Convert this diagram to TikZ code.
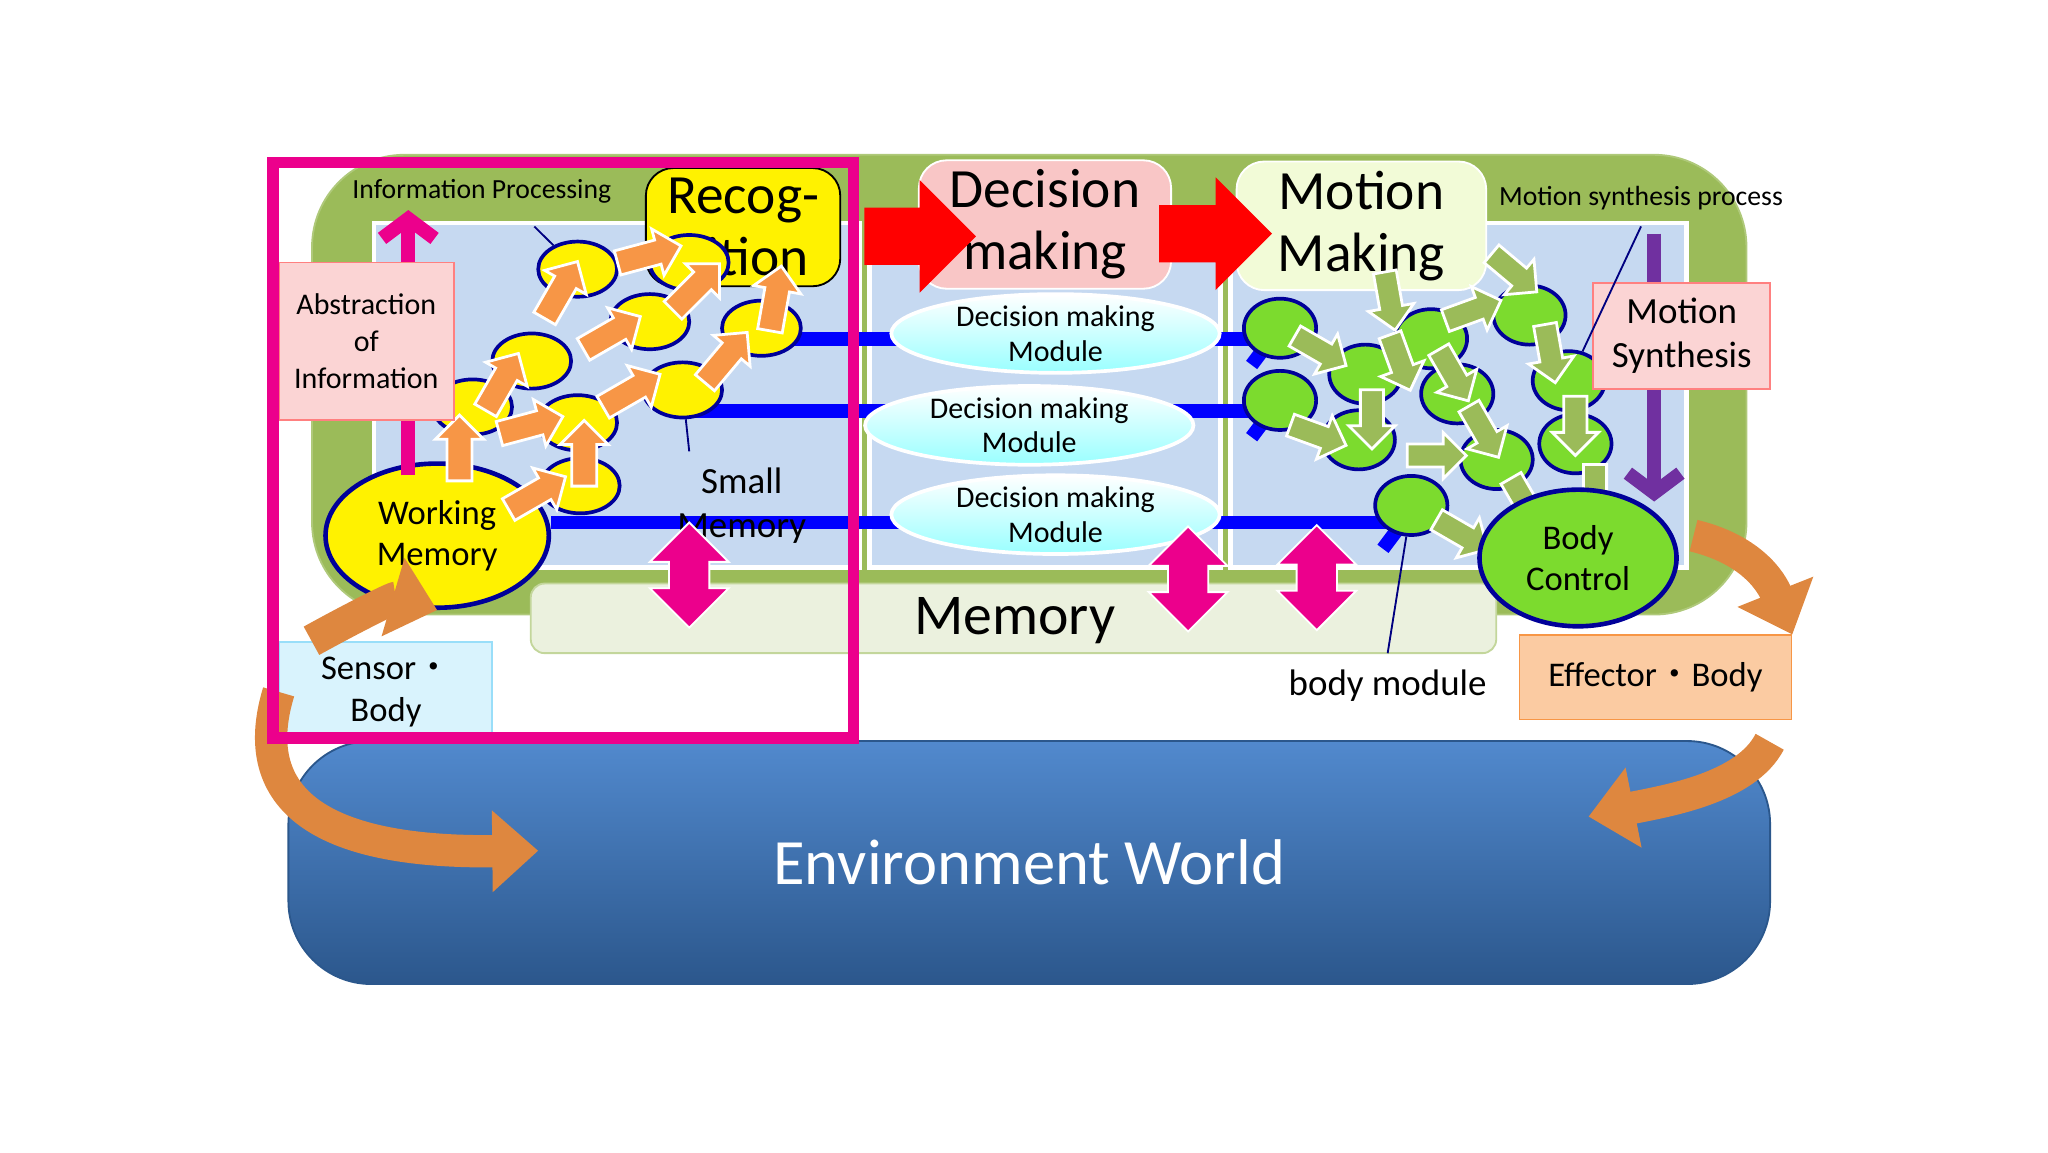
\documentclass[tikz,border=0pt]{standalone}
\usepackage{fontspec}
\setmainfont{Carlito}
\newfontfamily\cjk{Noto Sans CJK JP}
\usetikzlibrary{shapes.geometric,shapes.arrows,arrows.meta}
\definecolor{olivegrn}{HTML}{9BBB59}
\definecolor{panelblue}{HTML}{C6D9F1}
\definecolor{envblue}{HTML}{3E7CC8}
\definecolor{orng}{HTML}{F79646}
\definecolor{pinkbox}{HTML}{F8B8B8}
\definecolor{ltgreen}{HTML}{EBF1DE}
\definecolor{limegrn}{HTML}{7CDB2E}
\definecolor{purp}{HTML}{7030A0}
\tikzset{
  panel/.style={fill=panelblue, draw=white, line width=1pt},
  titlebox/.style={draw=white, rounded corners=6pt, align=center, font=\fontsize{12}{13.5}\selectfont, inner sep=2pt},
  module/.style={ellipse, draw=white, line width=0.8pt, top color=white, bottom color=cyan!40, minimum width=2.5cm, minimum height=0.58cm, align=center, inner sep=0pt, font=\fontsize{6.5}{7.5}\selectfont},
  ybl/.style={ellipse, fill=yellow, draw=blue!60!black, line width=0.8pt, minimum width=0.6cm, minimum height=0.42cm},
  gbl/.style={ellipse, fill=limegrn, draw=blue!60!black, line width=0.8pt, minimum width=0.55cm, minimum height=0.45cm},
  oarr/.style={single arrow, fill=orng, draw=white, line width=0.6pt, minimum height=0.5cm, minimum width=0.34cm, single arrow head extend=2.5pt, inner sep=2.4pt},
  garr/.style={single arrow, fill=olivegrn, draw=white, line width=0.6pt, minimum height=0.45cm, minimum width=0.32cm, single arrow head extend=2.5pt, inner sep=2.2pt},
  dbl/.style={double arrow, fill=magenta, draw=white, rotate=90, minimum height=0.8cm, minimum width=0.6cm, double arrow head extend=4pt, inner sep=4pt},
  bluearr/.style={draw=blue, line width=3pt, -{Straight Barb[length=0.15cm,width=0.4cm]}},
  curved/.style={draw=orng!90!black, line width=7pt, -{Triangle[length=0.35cm,width=0.6cm]}},
  lbl/.style={font=\fontsize{6}{7}\selectfont},
  txt/.style={font=\fontsize{7.5}{9}\selectfont, align=center}
}
\begin{document}
\begin{tikzpicture}[x=0.01cm, y=-0.01cm]
\useasboundingbox (0,0) rectangle (1560,877.5);
% environment
\node (env) [draw=envblue!70!black, rounded corners=18pt, top color=envblue!90, bottom color=envblue!70!black, minimum width=11.28cm, minimum height=1.85cm, text=white, font=\fontsize{14}{14}\selectfont] at (784,657) {Environment World};
% big green frame
\node (frame) [fill=olivegrn, draw=olivegrn!80, rounded corners=20pt, minimum width=10.92cm, minimum height=3.5cm] at (784,293) {};
\node (pleft) [panel, minimum width=3.7cm, minimum height=2.62cm] at (470,301) {};
\node (pmid) [panel, minimum width=2.67cm, minimum height=2.62cm] at (796,301) {};
\node (pright) [panel, minimum width=3.47cm, minimum height=2.62cm] at (1111,301) {};
% memory bar
\node (mem) [fill=ltgreen, draw=olivegrn!60, rounded corners=3pt, minimum width=7.35cm, minimum height=0.53cm] at (772,471) {};
\node (memtxt) [font=\fontsize{12.5}{13}\selectfont] at (773,473) {Memory};
% titles
\node (recog) [titlebox, fill=yellow, draw=black, minimum width=1.48cm, minimum height=0.9cm] at (566,173) {Recog-\\nition};
\node (dec) [titlebox, fill=pinkbox!80, minimum width=1.92cm, minimum height=0.93cm] at (796,171) {Decision\\making};
\node (mot) [titlebox, fill=ltgreen!70!lime!40, minimum width=1.9cm, minimum height=0.91cm] at (1037,172) {Motion\\Making};
\node (ra1) [single arrow, fill=red, minimum height=0.85cm, minimum width=0.75cm, single arrow head extend=6pt, inner sep=6pt] at (690,180) {};
\node (ra2) [single arrow, fill=red, minimum height=0.86cm, minimum width=0.75cm, single arrow head extend=6pt, inner sep=6pt] at (915,178) {};
% blue arrows
\coordinate (b1s) at (605,258); \coordinate (b1e) at (975,258);
\coordinate (b2s) at (530,313); \coordinate (b2e) at (975,313);
\coordinate (b3e) at (1075,398);
\draw[bluearr] (b1s) -- (b1e);
\draw[bluearr] (b2s) -- (b2e);
% working memory
\node (wm) [ellipse, fill=yellow, draw=blue!60!black, line width=1pt, minimum width=1.7cm, minimum height=0.9cm, txt] at (333,408) {Working\\Memory};
\draw[bluearr] (wm.east |- 0,398) -- (b3e);
% modules
\node (m1) [module] at (804,254) {Decision making\\Module};
\node (m2) [module] at (784,324) {Decision making\\Module};
\node (m3) [module] at (804,392) {Decision making\\Module};
% yellow blobs
\foreach \x/\y [count=\i] in {440/205,405/275,360/310,440/322,495/245,520/297,580/250,442/370,525/200}
  \node (y\i) [ybl] at (\x,\y) {};
% green blobs
\foreach \x/\y [count=\i] in {975/250,975/305,1035/335,1040/285,1090/258,1110/300,1140/350,1165/240,1195/290,1200/338,1075/385}
  \node (g\i) [gbl] at (\x,\y) {};
% orange arrows
\foreach \x/\y/\a [count=\i] in {490/195/15,425/225/60,462/256/30,527/222/45,380/295/60,400/325/15,477/300/30,550/276/50,590/232/80,350/346/90,445/350/90,405/378/30}
  \node (o\i) [oarr, rotate=\a] at (\x,\y) {};
% green arrows
\foreach \x/\y/\a [count=\i] in {1058/225/-80,1150/205/-40,1002/265/-30,1065/272/-70,1118/238/20,1105/282/-60,1180/265/-80,1000/330/-20,1045/315/-90,1128/325/-60,1200/320/-90,1090/347/0,1160/380/-60,1215/372/-90,1110/405/-30}
  \node (ga\i) [garr, rotate=\a] at (\x,\y) {};
% body control
\node (bc) [ellipse, fill=limegrn, draw=blue!60!black, line width=1pt, minimum width=1.5cm, minimum height=0.9cm, txt] at (1202,425) {Body\\Control};
% small memory label
\node (small) [txt, font=\fontsize{8}{9.5}\selectfont] at (565,385) {Small\\Memory};
% magenta double arrows
\node (d1) [dbl] at (525,438) {};
\node (d2) [dbl] at (905,441) {};
\node (d3) [dbl] at (1003,440) {};
% side boxes
\node (abs) [fill=pinkbox!60, draw=red!50, minimum width=1.33cm, minimum height=1.2cm, txt, font=\fontsize{6.5}{8}\selectfont] at (279,260) {Abstraction\\of\\Information};
\coordinate (mup) at (311,160);
\coordinate (mlo) at (311,362);
\draw[magenta, line width=3pt] (mlo) -- (abs.south -| mlo);
\draw[magenta, line width=3pt, -{Straight Barb[length=0.15cm,width=0.4cm]}] (abs.north -| mlo) -- (mup);
\node (msyn) [fill=pinkbox!60, draw=red!50, minimum width=1.35cm, minimum height=0.81cm, txt, font=\fontsize{8}{9.5}\selectfont] at (1281,256) {Motion\\Synthesis};
\coordinate (pu) at (1260,178); \coordinate (pd) at (1260,382);
\draw[purp, line width=3pt] (pu) -- (pu |- msyn.north);
\draw[purp, line width=3pt, -{Straight Barb[length=0.15cm,width=0.4cm]}] (pu |- msyn.south) -- (pd);
% bodies
\node (sens) [fill=cyan!15, draw=cyan!40, minimum width=1.62cm, minimum height=0.62cm, txt, font=\fontsize{7.5}{9}\selectfont] at (294,527) {Sensor{\cjk ・}\\Body};
\node (eff) [fill=orng!50, draw=orng, minimum width=2.07cm, minimum height=0.64cm, txt, font=\fontsize{7.5}{9}\selectfont] at (1261,516) {Effector{\cjk ・}Body};
% curved arrows
\draw[curved] (sens.north west) ++(25,0) .. controls (270,470) and (300,455) .. (wm.south);
\draw[curved] (sens.west) .. controls (190,600) and (230,650) .. (410,648);
\draw[curved] (1290,408) .. controls (1340,420) and (1352,450) .. (eff.north east);
\draw[curved] (1348,565) .. controls (1330,600) and (1270,610) .. (1210,622);
% magenta frame
\node (mag) [draw=magenta, line width=2.5pt, minimum width=4.42cm, minimum height=4.38cm] at (429,343) {};
% labels
\node (ip) [lbl] at (367,146) {Information Processing};
\node (msp) [lbl] at (1250,151) {Motion synthesis process};
\node (bm) [txt, font=\fontsize{8}{9}\selectfont] at (1057,522) {body module};
\draw[blue!50!black, thin] (ip.south) ++(40,5) -- (y1);
\draw[blue!50!black, thin] (msp.south) -- (g9);
\draw[blue!50!black, thin] (bm.north) -- (g11);
\draw[blue!50!black, thin] (small.north) ++(-40,0) -- (y6);
\end{tikzpicture}
\end{document}
